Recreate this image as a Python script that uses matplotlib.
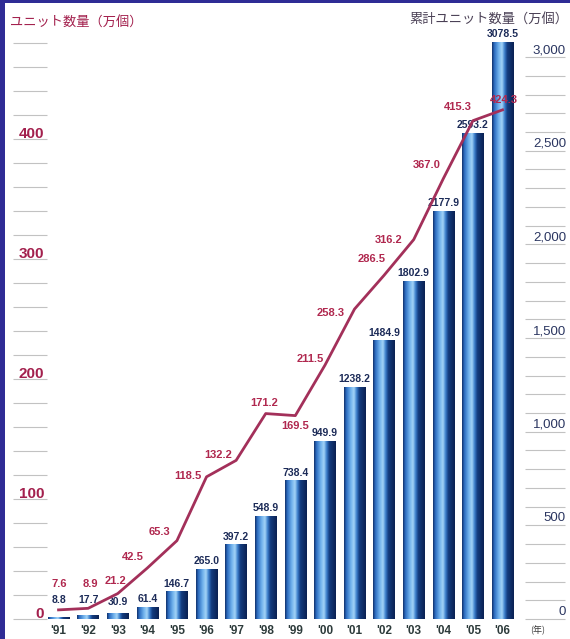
import numpy as np
import matplotlib
matplotlib.use('Agg')
import matplotlib.pyplot as plt
from matplotlib.colors import LinearSegmentedColormap
from matplotlib.patches import Rectangle

years = ["'91", "'92", "'93", "'94", "'95", "'96", "'97", "'98",
         "'99", "'00", "'01", "'02", "'03", "'04", "'05", "'06"]
cumulative = [8.8, 17.7, 30.9, 61.4, 146.7, 265.0, 397.2, 548.9,
              738.4, 949.9, 1238.2, 1484.9, 1802.9, 2177.9, 2593.2, 3078.5]
annual = [7.6, 8.9, 21.2, 42.5, 65.3, 118.5, 132.2, 171.2,
          169.5, 211.5, 258.3, 286.5, 316.2, 367.0, 415.3, 424.3]

# label offsets in pixels (dx, dy) for the line values
line_offsets = [(1, 26), (2, 24), (-2, 13), (-15, 11), (-17, 9), (-19, 1),
                (-18, 5), (-2, 11), (0, -10), (-15, 6), (-24, -4), (-12, 16),
                (-25, 0), (-17, 14), (-15, 14), (1, 10)]
bar_offsets = [12, 11, 6, 3] + [3] * 12

plt.rcParams['font.family'] = ['Liberation Sans', 'DejaVu Sans']
jp = ['Noto Sans CJK JP', 'DejaVu Sans']

W, H = 570, 639
fig = plt.figure(figsize=(W / 100, H / 100), dpi=100)
fig.patch.set_facecolor('#2f2c95')
fig.add_artist(Rectangle((5 / W, 0), 1, 1 - 3 / H, transform=fig.transFigure,
                         facecolor='white', edgecolor='none', zorder=0))

ax_bar = fig.add_axes([47 / W, 20 / H, 478 / W, 584 / H])
ax_line = ax_bar.twinx()
ax_bar.yaxis.tick_right()
ax_line.yaxis.tick_left()
for a in (ax_bar, ax_line):
    a.patch.set_visible(False)
    for s in a.spines.values():
        s.set_visible(False)

x = np.arange(len(years))

# cylinder-like shading for the bars
shade = LinearSegmentedColormap.from_list('cyl', [
    (0.0, '#12336e'), (0.1, '#2c6cc0'), (0.3, '#6fb0ec'), (0.45, '#a3d4f7'),
    (0.58, '#3d7fcc'), (0.7, '#143d80'), (1.0, '#0b2152')])
grad = np.linspace(0, 1, 64).reshape(1, -1)
bars = ax_bar.bar(x, cumulative, width=0.72, color='none', edgecolor='none')
for b in bars:
    ax_bar.imshow(grad, cmap=shade, aspect='auto', interpolation='bilinear',
                  extent=(b.get_x(), b.get_x() + b.get_width(), 0, b.get_height()),
                  zorder=2)
for xi, v, off in zip(x, cumulative, bar_offsets):
    ax_bar.annotate(f'{v:.1f}', (xi, v), xytext=(0, off), textcoords='offset pixels',
                    ha='center', va='bottom', fontsize=7.5, fontweight='bold',
                    color='#1c2b58', zorder=4, annotation_clip=False)

ax_line.plot(x, annual, color='#a3305a', lw=2, zorder=5)
for xi, v, (dx, dy) in zip(x, annual, line_offsets):
    ax_line.annotate(f'{v:.1f}', (xi, v), xytext=(dx, dy), textcoords='offset pixels',
                     ha='center', va='center', fontsize=8, fontweight='bold',
                     color='#b0284f', zorder=6, annotation_clip=False)

ax_bar.set_xlim(-0.39, 15.76)
ax_bar.set_ylim(0, 3118)
ax_line.set_ylim(0, 486.7)

# tick lines for both value axes
ax_bar.set_yticks(np.arange(0, 3001, 100))
ax_bar.tick_params(axis='y', length=29, width=0.8, color='#c2c2c2', labelright=False)
ax_line.set_yticks(np.arange(0, 481, 20))
ax_line.tick_params(axis='y', length=24.5, width=0.8, color='#c2c2c2', labelleft=False)

for v in range(0, 401, 100):
    ax_line.annotate(str(v), (0, v), xycoords=('axes fraction', 'data'),
                     xytext=(-3, 5), textcoords='offset pixels', ha='right',
                     va='center', fontsize=11, fontweight='bold', color='#a3204d',
                     annotation_clip=False)
for v in range(0, 3001, 500):
    ax_bar.annotate(f'{v:,}', (1, v), xycoords=('axes fraction', 'data'),
                    xytext=(41, 7), textcoords='offset pixels', ha='right',
                    va='center', fontsize=9.5, color='#2a3560', annotation_clip=False)

ax_bar.set_xticks(x, years)
ax_bar.tick_params(axis='x', length=0, pad=4, labelsize=8.5, labelcolor='#2d3b3b')
for t in ax_bar.get_xticklabels():
    t.set_fontweight('bold')

fig.text(10 / W, 1 - 23 / H, 'ユニット数量（万個）', family=jp, fontsize=9.5,
         color='#a3204d', ha='left', va='center')
fig.text(568 / W, 1 - 20 / H, '累計ユニット数量（万個）', family=jp, fontsize=9.5,
         color='#4a4055', ha='right', va='center')
fig.text(538 / W, 1 - 630 / H, '(年)', family=jp, fontsize=6.5,
         color='#3a3a3a', ha='center', va='center')

fig.savefig('out.png', dpi=100)
